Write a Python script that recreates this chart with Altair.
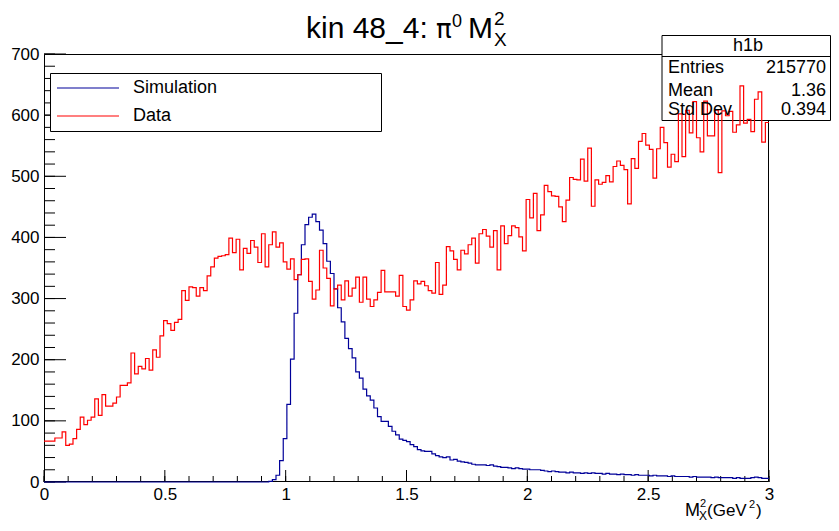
import altair as alt
import pandas as pd

# ---------------- data ----------------
bin_width = 0.015
n_bins = 200

red_counts = [
    67, 67, 67, 72, 72, 82, 60, 62, 71, 86,
    106, 94, 101, 106, 136, 109, 143, 124, 124, 129,
    139, 158, 158, 162, 211, 177, 189, 185, 202, 183,
    216, 204, 239, 264, 259, 248, 261, 266, 313, 297,
    319, 318, 304, 318, 313, 337, 352, 366, 369, 370,
    372, 399, 375, 397, 347, 382, 374, 395, 384, 359,
    406, 352, 388, 409, 384, 391, 360, 348, 365, 331,
    339, 364, 365, 328, 299, 314, 379, 350, 333, 288,
    316, 322, 298, 329, 304, 317, 335, 294, 335, 299,
    287, 298, 310, 346, 311, 311, 311, 304, 338, 287,
    281, 298, 329, 324, 328, 321, 313, 309, 359, 307,
    322, 385, 378, 364, 347, 379, 373, 388, 399, 358,
    406, 413, 402, 384, 411, 347, 419, 390, 403, 419,
    416, 401, 378, 462, 432, 472, 411, 437, 485, 475,
    468, 467, 450, 426, 461, 498, 495, 494, 528, 492,
    546, 451, 494, 487, 490, 501, 491, 516, 525, 518,
    511, 455, 529, 513, 557, 570, 551, 544, 497, 545,
    580, 555, 515, 536, 524, 602, 532, 608, 571, 622,
    563, 540, 623, 566, 566, 608, 506, 607, 599, 606,
    572, 584, 648, 587, 593, 573, 626, 638, 556, 588,
]

blue_counts = [0] * 62 + [
    1, 4, 11, 35, 71, 127, 201, 276,
    339, 388, 421, 433, 438, 426, 412, 390, 361, 341,
    316, 285, 262, 235, 218, 203, 180, 170, 152, 141,
    134, 121, 107, 99, 99, 91, 83, 77, 70, 68,
    66, 61, 58, 53, 51, 50, 50, 46, 43, 41,
    40, 41, 36, 37, 34, 33, 32, 31, 29, 28,
    28, 28, 27, 28, 26, 25, 24, 24, 23, 22,
    23, 22, 21, 21, 20, 20, 20, 19, 18, 17,
    18, 17, 16, 16, 15, 16, 15, 15, 14, 15,
    14, 15, 14, 14, 13, 14, 13, 13, 12, 13,
    12, 12, 11, 12, 11, 11, 11, 10, 11, 10,
    10, 10, 9, 10, 9, 9, 9, 9, 8, 9,
    8, 8, 8, 8, 7, 8, 7, 7, 7, 7,
    6, 7, 6, 6, 6, 7, 8, 7, 6, 6,
]

assert len(red_counts) == n_bins, len(red_counts)
assert len(blue_counts) == n_bins, len(blue_counts)

x_major = [0, 0.5, 1, 1.5, 2, 2.5, 3]
x_minor = [round(i * 0.1, 2) for i in range(31)]
y_major = [0, 100, 200, 300, 400, 500, 600, 700]
y_minor = list(range(0, 701, 20))

legend_labels = ["Simulation", "Data"]
stats_labels = ["Entries", "Mean", "Std Dev"]
stats_values = ["215770", "1.36", "0.394"]

# ---------------- build tables ----------------
edges = [round(i * bin_width, 4) for i in range(n_bins + 1)]


def hist_df(counts):
    return pd.DataFrame({"x": edges, "y": counts + [counts[-1]]})


sim_df = hist_df(blue_counts)
data_df = hist_df(red_counts)

FONT = "Liberation Sans, Arial, Helvetica, sans-serif"
GREEK = "DejaVu Sans, Noto Sans, sans-serif"
W, H = 725, 428
BLUE = "#000099"
RED = "#ff0000"

xscale = alt.Scale(domain=[0, 3], nice=False, zero=False)
yscale = alt.Scale(domain=[0, 700], nice=False)

xaxis = alt.Axis(
    values=x_major, format="~g", ticks=False, domain=False, grid=False,
    labelFont=FONT, labelFontSize=17, labelColor="black", labelPadding=4,
    labelFlush=False, title=None,
)
yaxis = alt.Axis(
    values=y_major, ticks=False, domain=False, grid=False,
    labelFont=FONT, labelFontSize=17, labelColor="black", labelPadding=5,
    labelFlush=False, title=None,
)

one = pd.DataFrame({"a": [0]})


def txt(text, x, y, size, font=FONT, align="left", baseline="alphabetic"):
    return alt.Chart(one).mark_text(
        text=text, font=font, fontSize=size, align=align, baseline=baseline, color="black"
    ).encode(x=alt.value(x), y=alt.value(y))


frame = alt.Chart(one).mark_rect(fillOpacity=0, stroke="black", strokeWidth=1).encode(
    x=alt.value(0.5), x2=alt.value(W - 0.5), y=alt.value(0.5), y2=alt.value(H - 0.5)
)

stats_box = alt.Chart(one).mark_rect(fill="white", stroke="black", strokeWidth=1).encode(
    x=alt.value(618), x2=alt.value(786.5), y=alt.value(-18.5), y2=alt.value(66.5)
)
stats_sep = alt.Chart(one).mark_rule(color="black", strokeWidth=1).encode(
    x=alt.value(618), x2=alt.value(786.5), y=alt.value(2.5)
)

sim = alt.Chart(sim_df).mark_line(interpolate="step-after", color=BLUE, strokeWidth=1.2).encode(
    x=alt.X("x:Q", scale=xscale, axis=xaxis),
    y=alt.Y("y:Q", scale=yscale, axis=yaxis),
)
dat = alt.Chart(data_df).mark_line(interpolate="step-after", color=RED, strokeWidth=1.2).encode(
    x=alt.X("x:Q", scale=xscale, axis=xaxis),
    y=alt.Y("y:Q", scale=yscale, axis=yaxis),
)


def xticks(vals, length):
    return alt.Chart(pd.DataFrame({"x": vals})).mark_rule(color="black", strokeWidth=1).encode(
        x=alt.X("x:Q", scale=xscale, axis=xaxis), y=alt.value(H), y2=alt.value(H - length)
    )


def yticks(vals, length):
    return alt.Chart(pd.DataFrame({"y": vals})).mark_rule(color="black", strokeWidth=1).encode(
        y=alt.Y("y:Q", scale=yscale, axis=yaxis), x=alt.value(0), x2=alt.value(length)
    )


legend_box = alt.Chart(one).mark_rect(fill="white", stroke="black", strokeWidth=1).encode(
    x=alt.value(6.5), x2=alt.value(337.5), y=alt.value(19.5), y2=alt.value(77.5)
)
leg_sim = alt.Chart(one).mark_rule(color=BLUE, strokeWidth=1.2).encode(
    x=alt.value(13), x2=alt.value(75), y=alt.value(34)
)
leg_dat = alt.Chart(one).mark_rule(color=RED, strokeWidth=1.2).encode(
    x=alt.value(13), x2=alt.value(75), y=alt.value(62)
)

layers = [
    frame,
    stats_box,
    stats_sep,
    xticks(x_minor, 6),
    xticks(x_major, 12),
    yticks(y_minor, 11),
    yticks(y_major, 22),
    sim,
    dat,
    legend_box,
    leg_sim,
    leg_dat,
    txt(legend_labels[0], 89, 34, 18, baseline="middle"),
    txt(legend_labels[1], 89, 62, 18, baseline="middle"),
    # stats box texts
    txt("h1b", 704, -8, 18, align="center", baseline="middle"),
    txt(stats_labels[0], 624, 14, 18, baseline="middle"),
    txt(stats_labels[1], 624, 37, 18, baseline="middle"),
    txt(stats_labels[2], 624, 56, 18, baseline="middle"),
    txt(stats_values[0], 782, 14, 18, align="right", baseline="middle"),
    txt(stats_values[1], 782, 37, 18, align="right", baseline="middle"),
    txt(stats_values[2], 782, 56, 18, align="right", baseline="middle"),
    # title: kin 48_4: pi^0 M^2_X
    txt("kin 48_4:", 262, -16, 30),
    txt("π", 392, -16, 26, font=GREEK),
    txt("0", 408, -27, 18),
    txt("M", 424, -16, 30),
    txt("2", 450, -29, 19),
    txt("X", 450, -8, 19),
    # x-axis title: M^2_X (GeV^2)
    txt("M", 641, 462, 18),
    txt("2", 656, 453, 11),
    txt("X", 655, 466, 12),
    txt("(GeV", 663, 462, 17),
    txt("2", 705, 454, 11),
    txt(")", 712, 462, 17),
]

chart = alt.layer(*layers).properties(
    width=W,
    height=H,
    autosize="none",
    padding={"left": 36, "top": 46, "right": 62, "bottom": 40},
    background="white",
).configure_view(stroke=None)

chart.save("out.html", embed_options={"renderer": "svg", "actions": False})
